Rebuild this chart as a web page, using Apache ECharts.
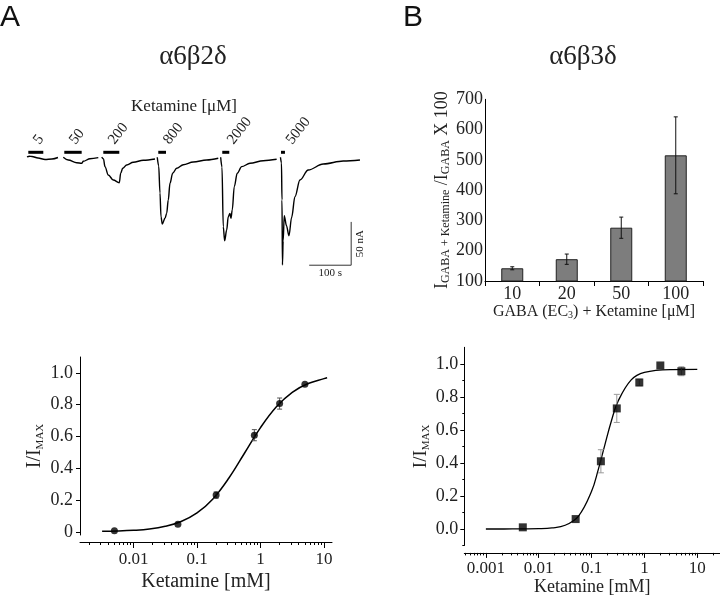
<!DOCTYPE html>
<html><head><meta charset="utf-8">
<script src="https://cdn.jsdelivr.net/npm/echarts@6/dist/echarts.min.js"></script>
<style>html,body{margin:0;padding:0;background:#fff}#c{width:720px;height:597px}</style>
</head><body><div id="c"></div>
<script>
// ---------- Panel A, top: current traces (time in s, current in nA) ----------
const traceConcs = ['5','50','200','800','2000','5000'];
const trace5    = [[0,0],[6,0.8],[11.9,0.6],[26.2,-1.2],[42.9,-2.9],[59.5,-2.3],[73.8,-0.6]];
const trace50   = [[86.4,-0.3],[98.3,-3.5],[118.3,-6.6],[130.2,-7.3],[134.1,-5.0],[150.0,-2.0],[169.8,-0.8]];
const trace200  = [[177.9,-0.3],[182.1,-2.3],[185.7,-11.2],[193.6,-20.8],[205.5,-26.6],[219.8,-29.7],[223.1,-18.8],[227.9,-13.1],[237.4,-9.2],[253.1,-6.1],[276.9,-3.8],[304.8,-2.3]];
const trace800  = [[310.2,-0.3],[313.6,-10.4],[316.7,-41.6],[319.1,-69.0],[322.2,-77.4],[328.6,-70.8],[332.6,-65.1],[336.4,-49.7],[340.5,-30.4],[346.9,-18.8],[356.4,-13.1],[372.2,-8.9],[396.0,-5.8],[427.9,-3.5],[455.5,-1.5]];
const trace2000 = [[461.2,-0.3],[464.3,-11.6],[467.4,-80.5],[470.7,-96.7],[475.5,-84.3],[479.3,-69.0],[483.3,-65.1],[485.7,-70.8],[488.8,-61.2],[493.6,-34.3],[500.7,-18.8],[511.2,-11.2],[531.0,-7.3],[562.6,-4.3],[594.5,-2.7]];
const trace5000 = [[603.6,-0.3],[606.0,-6.9],[607.2,-49.7],[608.3,-124.7],[610.0,-96.7],[612.6,-67.8],[617.9,-79.4],[623.8,-90.9],[630.2,-69.8],[638.1,-45.9],[650.0,-26.6],[669.8,-15.0],[705.5,-8.1],[753.1,-4.6],[792.9,-3.5]];
const appStart = [3.1,88.8,181.7,312.6,465.0,604.8];
const appEnd   = [38.8,130.2,219.8,331.0,481.7,614.3];
const appLevel = 5.4;
const scaleBarTime = [672,772];     // 100 s
const scaleBarCurrent = [-125,-75]; // 50 nA

// ---------- Panel B, top: potentiation bars ----------
const gabaConc = ['10','20','50','100'];
const potentiation = [142,172,276,515];
const potentiationErr = [5,17,35,127];

// ---------- Panel A, bottom: dose response a6b2d ----------
const ketA = [0.005,0.05,0.2,0.8,2,5];
const respA = [0.006,0.048,0.231,0.608,0.807,0.929];
const errA = [0,0,0.02,0.035,0.035,0];
const fitConcA = [0.0032,0.0056,0.01,0.0178,0.0316,0.0562,0.1,0.178,0.316,0.562,1,1.78,3.16,5.62,10,11.2];
const fitRespA = [0.003,0.005,0.0095,0.018,0.035,0.065,0.119,0.207,0.337,0.496,0.656,0.787,0.878,0.933,0.964,0.969];

// ---------- Panel B, bottom: dose response a6b3d ----------
const ketB = [0.005,0.05,0.15,0.3,0.8,2,5];
const respB = [0.01,0.06,0.41,0.73,0.887,0.99,0.955];
const errB = [0,0,0.07,0.085,0.02,0,0.027];
const fitConcB = [0.001,0.0032,0.01,0.0178,0.0316,0.0562,0.1,0.133,0.178,0.237,0.316,0.562,1,3.16,10];
const fitRespB = [0.0,0.0001,0.0018,0.0064,0.0226,0.0766,0.228,0.356,0.508,0.654,0.772,0.903,0.948,0.965,0.966];

// tick labels
const xTickValsA = [0.01,0.1,1,10];
const xTickLabelsA = ['0.01','0.1','1','10'];
const xTickValsB = [0.001,0.01,0.1,1,10];
const xTickLabelsB = ['0.001','0.01','0.1','1','10'];
const yTickValsA = [0,0.2,0.4,0.6,0.8,1.0];
const yTickLabelsA = ['0','0.2','0.4','0.6','0.8','1.0'];
const yTickValsB = [0,0.2,0.4,0.6,0.8,1.0];
const yTickLabelsB = ['0.0','0.2','0.4','0.6','0.8','1.0'];
const yMinorB = [-0.1,0.1,0.3,0.5,0.7,0.9];

const SERIF = "'Liberation Serif','DejaVu Serif',serif";
const SANS = "'Liberation Sans','DejaVu Sans',sans-serif";
const lg = Math.log10;

function logMinor(lo, hi){
  const out=[];
  for(let d=Math.floor(lo)-1; d<=Math.ceil(hi); d++){
    for(let m=2;m<=9;m++){ const v=d+lg(m); if(v>=lo && v<=hi) out.push(v); }
  }
  return out;
}
function labelFrom(vals, labels){
  return v => { const i = vals.findIndex(t => Math.abs(lg(t)-v) < 1e-6); return i>=0 ? labels[i] : ''; };
}
function errBar(color, cap){
  return function(params, api){
    const x=api.value(0), y=api.value(1), e=api.value(2);
    if(!e) return null;
    const a=api.coord([x,y+e]), b=api.coord([x,y-e]);
    const st={stroke:color,lineWidth:1};
    return {type:'group',children:[
      {type:'line',shape:{x1:a[0],y1:a[1],x2:b[0],y2:b[1]},style:st},
      {type:'line',shape:{x1:a[0]-cap,y1:a[1],x2:a[0]+cap,y2:a[1]},style:st},
      {type:'line',shape:{x1:b[0]-cap,y1:b[1],x2:b[0]+cap,y2:b[1]},style:st}
    ]};
  };
}

const AX_LO = -2.843, AX_HI = 1.126;
const BX_LO = -3.408, BX_HI = 1.43;

const chart = echarts.init(document.getElementById('c'), null, {renderer:'canvas'});
const traces = [trace5,trace50,trace200,trace800,trace2000,trace5000];

const axisLineBlack = {show:true,onZero:false,lineStyle:{color:'#000',width:1}};
const noLine = {show:false,onZero:false};

const option = {
  animation:false,
  backgroundColor:'#fff',
  textStyle:{fontFamily:SERIF},
  grid:[
    {left:27, top:131, width:333, height:147.2},
    {left:485, top:99.3, width:218, height:181.7},
    {left:80, top:357, width:252, height:178},
    {left:464.3, top:347.3, width:255.7, height:198.2}
  ],
  xAxis:[
    {gridIndex:0,type:'value',min:0,max:793,show:false},
    {gridIndex:1,type:'category',data:gabaConc,
      axisLine:axisLineBlack,
      axisTick:{show:true,alignWithLabel:false,length:5,lineStyle:{color:'#000'}},
      axisLabel:{color:'#222',fontFamily:SERIF,fontSize:18,margin:4},
      name:'GABA (EC{s|3}) + Ketamine [μM]',nameLocation:'middle',nameGap:21,
      nameTextStyle:{color:'#222',fontFamily:SERIF,fontSize:16,rich:{s:{fontSize:10,verticalAlign:'bottom',lineHeight:8,fontFamily:SERIF,color:'#222'}}}
    },
    {gridIndex:2,type:'value',min:AX_LO,max:AX_HI,position:'bottom',offset:7,
      axisLine:axisLineBlack,splitLine:{show:false},
      axisTick:{show:true,customValues:xTickValsA.map(lg),length:6,lineStyle:{color:'#000'}},
      axisLabel:{customValues:xTickValsA.map(lg),formatter:labelFrom(xTickValsA,xTickLabelsA),color:'#222',fontFamily:SERIF,fontSize:17,margin:9},
      name:'Ketamine [mM]',nameLocation:'middle',nameGap:30,
      nameTextStyle:{color:'#222',fontFamily:SERIF,fontSize:20}
    },
    {gridIndex:2,type:'value',min:AX_LO,max:AX_HI,position:'bottom',offset:7,
      axisLine:noLine,splitLine:{show:false},axisLabel:{show:false},
      axisTick:{show:true,customValues:logMinor(AX_LO,AX_HI),length:3,lineStyle:{color:'#000'}}
    },
    {gridIndex:3,type:'value',min:BX_LO,max:BX_HI,position:'bottom',offset:7.4,
      axisLine:axisLineBlack,splitLine:{show:false},
      axisTick:{show:true,customValues:xTickValsB.map(lg),length:5,lineStyle:{color:'#000'}},
      axisLabel:{customValues:xTickValsB.map(lg),formatter:labelFrom(xTickValsB,xTickLabelsB),color:'#222',fontFamily:SERIF,fontSize:17,margin:7},
      name:'Ketamine [mM]',nameLocation:'middle',nameGap:25,
      nameTextStyle:{color:'#222',fontFamily:SERIF,fontSize:18}
    },
    {gridIndex:3,type:'value',min:BX_LO,max:BX_HI,position:'bottom',offset:7.4,
      axisLine:noLine,splitLine:{show:false},axisLabel:{show:false},
      axisTick:{show:true,customValues:logMinor(BX_LO,BX_HI),length:2.5,lineStyle:{color:'#000'}}
    }
  ],
  yAxis:[
    {gridIndex:0,type:'value',min:-140,max:30,show:false},
    {gridIndex:1,type:'value',min:100,max:700,interval:100,
      axisLine:axisLineBlack,axisTick:{show:false},splitLine:{show:false},
      axisLabel:{color:'#222',fontFamily:SERIF,fontSize:18,margin:2},
      name:'{m|I}{s|GABA + Ketamine}{m| /I}{s|GABA}{m| X 100}',nameLocation:'middle',nameGap:31,
      nameTextStyle:{color:'#222',fontFamily:SERIF,fontSize:18,rich:{
        m:{fontSize:18,lineHeight:20,fontFamily:SERIF,color:'#222'},
        s:{fontSize:12,lineHeight:10,verticalAlign:'bottom',fontFamily:SERIF,color:'#222'}}}
    },
    {gridIndex:2,type:'value',min:-0.02,max:1.1,position:'left',
      axisLine:axisLineBlack,splitLine:{show:false},
      axisTick:{show:true,customValues:yTickValsA,length:4,lineStyle:{color:'#000'}},
      axisLabel:{customValues:yTickValsA,formatter:v=>{const i=yTickValsA.findIndex(t=>Math.abs(t-v)<1e-9);return i>=0?yTickLabelsA[i]:'';},color:'#222',fontFamily:SERIF,fontSize:18,margin:7},
      name:'{m|I/I}{s|MAX}',nameLocation:'middle',nameGap:34,
      nameTextStyle:{color:'#222',fontFamily:SERIF,fontSize:20,rich:{
        m:{fontSize:20,lineHeight:22,fontFamily:SERIF,color:'#222'},
        s:{fontSize:11,lineHeight:10,verticalAlign:'bottom',fontFamily:SERIF,color:'#222'}}}
    },
    {gridIndex:3,type:'value',min:-0.1,max:1.1,position:'left',
      axisLine:axisLineBlack,splitLine:{show:false},
      axisTick:{show:true,customValues:yTickValsB,length:4,lineStyle:{color:'#000'}},
      axisLabel:{customValues:yTickValsB,formatter:v=>{const i=yTickValsB.findIndex(t=>Math.abs(t-v)<1e-9);return i>=0?yTickLabelsB[i]:'';},color:'#222',fontFamily:SERIF,fontSize:18,margin:6},
      name:'{m|I/I}{s|MAX}',nameLocation:'middle',nameGap:32,
      nameTextStyle:{color:'#222',fontFamily:SERIF,fontSize:19,rich:{
        m:{fontSize:19,lineHeight:21,fontFamily:SERIF,color:'#222'},
        s:{fontSize:11,lineHeight:10,verticalAlign:'bottom',fontFamily:SERIF,color:'#222'}}}
    },
    {gridIndex:3,type:'value',min:-0.1,max:1.1,position:'left',
      axisLine:noLine,splitLine:{show:false},axisLabel:{show:false},
      axisTick:{show:true,customValues:yMinorB,length:2,lineStyle:{color:'#000'}}
    }
  ],
  series:[
    ...traces.map(tr=>({type:'line',xAxisIndex:0,yAxisIndex:0,data:tr,showSymbol:false,symbol:'none',
      smooth:0.35,smoothMonotone:'x',lineStyle:{color:'#000',width:1.4},clip:false})),
    {type:'custom',xAxisIndex:0,yAxisIndex:0,
      data:appStart.map((s,i)=>[s,appEnd[i],appLevel]),
      renderItem:(params,api)=>{
        const a=api.coord([api.value(0),api.value(2)]), b=api.coord([api.value(1),api.value(2)]);
        return {type:'group',children:[
          {type:'line',shape:{x1:a[0],y1:a[1],x2:b[0],y2:b[1]},style:{stroke:'#000',lineWidth:3}},
          {type:'text',x:a[0]+14,y:a[1]-5,rotation:52*Math.PI/180,
            style:{text:traceConcs[params.dataIndex],font:'15px '+SERIF,fill:'#222',align:'left',verticalAlign:'bottom'}}
        ]};
      }},
    {type:'custom',xAxisIndex:0,yAxisIndex:0,
      data:[[scaleBarTime[0],scaleBarTime[1],scaleBarCurrent[0],scaleBarCurrent[1]]],
      renderItem:(params,api)=>{
        const p0=api.coord([api.value(0),api.value(2)]), p1=api.coord([api.value(1),api.value(2)]), p2=api.coord([api.value(1),api.value(3)]);
        const st={stroke:'#333',lineWidth:1};
        return {type:'group',children:[
          {type:'line',shape:{x1:p0[0],y1:p0[1],x2:p1[0],y2:p1[1]},style:st},
          {type:'line',shape:{x1:p1[0],y1:p1[1],x2:p2[0],y2:p2[1]},style:st},
          {type:'text',x:(p0[0]+p1[0])/2,y:p0[1]+2,style:{text:'100 s',font:'11px '+SERIF,fill:'#222',align:'center',verticalAlign:'top'}},
          {type:'text',x:p1[0]+3,y:(p1[1]+p2[1])/2,rotation:Math.PI/2,style:{text:'50 nA',font:'11px '+SERIF,fill:'#222',align:'center',verticalAlign:'top'}}
        ]};
      }},
    {type:'bar',xAxisIndex:1,yAxisIndex:1,data:potentiation,barWidth:22,
      itemStyle:{color:'#7d7d7d',borderColor:'#222',borderWidth:1}},
    {type:'custom',xAxisIndex:1,yAxisIndex:1,z:5,
      data:potentiation.map((v,i)=>[i,v,potentiationErr[i]]),encode:{x:0,y:1},
      renderItem:errBar('#111',2)},
    {type:'line',xAxisIndex:2,yAxisIndex:2,data:fitConcA.map((c,i)=>[lg(c),fitRespA[i]]),
      showSymbol:false,symbol:'none',smooth:0.4,lineStyle:{color:'#000',width:1.5}},
    {type:'custom',xAxisIndex:2,yAxisIndex:2,z:4,
      data:ketA.map((c,i)=>[lg(c),respA[i],errA[i]]),encode:{x:0,y:1},
      renderItem:errBar('#555',2.5)},
    {type:'scatter',xAxisIndex:2,yAxisIndex:2,z:5,data:ketA.map((c,i)=>[lg(c),respA[i]]),
      symbol:'circle',symbolSize:7,itemStyle:{color:'#000'}},
    {type:'line',xAxisIndex:4,yAxisIndex:3,data:fitConcB.map((c,i)=>[lg(c),fitRespB[i]]),
      showSymbol:false,symbol:'none',smooth:0.4,lineStyle:{color:'#000',width:1.3}},
    {type:'custom',xAxisIndex:4,yAxisIndex:3,z:4,
      data:ketB.map((c,i)=>[lg(c),respB[i],errB[i]]),encode:{x:0,y:1},
      renderItem:errBar('#999',3)},
    {type:'scatter',xAxisIndex:4,yAxisIndex:3,z:5,data:ketB.map((c,i)=>[lg(c),respB[i]]),
      symbol:'rect',symbolSize:8,itemStyle:{color:'#000'}}
  ],
  graphic:[
    {type:'text',x:0,y:3,style:{text:'A',font:'30px '+SANS,fill:'#111',align:'left',verticalAlign:'top'}},
    {type:'text',x:403,y:3,style:{text:'B',font:'30px '+SANS,fill:'#111',align:'left',verticalAlign:'top'}},
    {type:'text',x:193,y:57,style:{text:'α6β2δ',font:'27px '+SERIF,fill:'#222',align:'center',verticalAlign:'middle'}},
    {type:'text',x:583,y:57,style:{text:'α6β3δ',font:'27px '+SERIF,fill:'#222',align:'center',verticalAlign:'middle'}},
    {type:'text',x:184,y:107,style:{text:'Ketamine [μM]',font:'17px '+SERIF,fill:'#222',align:'center',verticalAlign:'middle'}}
  ]
};
chart.setOption(option);
</script></body></html>
